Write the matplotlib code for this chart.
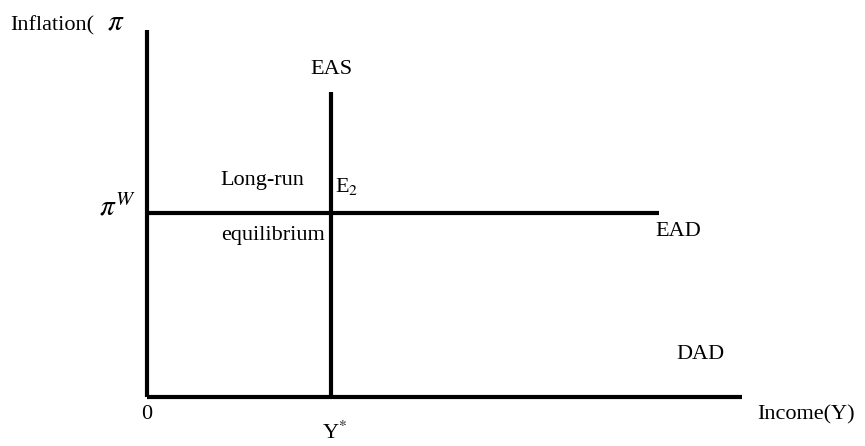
import matplotlib.pyplot as plt

plt.rcParams['font.family'] = ['Liberation Serif', 'DejaVu Serif']
plt.rcParams['mathtext.fontset'] = 'stix'

# diagram coordinates (pixel-like units, y grows downward)
origin = (147, 397)
y_axis_top = 30
x_axis_right = 742
y_star = 331       # long-run output, EAS position
eas_top = 92
pi_w = 213         # world inflation, EAD level
ead_right = 659

fig = plt.figure(figsize=(8.65, 4.46), dpi=100)
ax = fig.add_axes([0, 0, 1, 1])
ax.set_xlim(0, 865)
ax.set_ylim(446, 0)
ax.axis('off')

lw = 3
# axes
ax.plot([origin[0], origin[0]], [origin[1], y_axis_top], color='black', lw=lw, solid_capstyle='butt')
ax.plot([origin[0], x_axis_right], [origin[1], origin[1]], color='black', lw=lw, solid_capstyle='butt')
# EAS vertical, EAD horizontal
ax.plot([y_star, y_star], [origin[1], eas_top], color='black', lw=lw, solid_capstyle='butt')
ax.plot([origin[0], ead_right], [pi_w, pi_w], color='black', lw=lw, solid_capstyle='butt')

fs = 16
ax.text(10, 30, 'Inflation(', fontsize=fs, va='baseline', ha='left')
ax.text(107, 30, r'$\pi$', fontsize=21, va='baseline', ha='left')
ax.text(y_star, 74, 'EAS', fontsize=fs, va='baseline', ha='center')
ax.text(220, 185, 'Long-run', fontsize=fs, va='baseline', ha='left')
ax.text(335, 192, r'E$_{2}$', fontsize=fs, va='baseline', ha='left')
ax.text(99, 216, r'$\pi^{W}$', fontsize=21, va='baseline', ha='left')
ax.text(221, 240, 'equilibrium', fontsize=fs, va='baseline', ha='left')
ax.text(655, 236, 'EAD', fontsize=fs, va='baseline', ha='left')
ax.text(676, 359, 'DAD', fontsize=fs, va='baseline', ha='left')
ax.text(origin[0], 419, '0', fontsize=fs, va='baseline', ha='center')
ax.text(y_star - 9, 439, r'Y$^{*}$', fontsize=fs, va='baseline', ha='left')
ax.text(757, 419, 'Income(Y)', fontsize=fs, va='baseline', ha='left')

fig.savefig('out.png', dpi=100)
